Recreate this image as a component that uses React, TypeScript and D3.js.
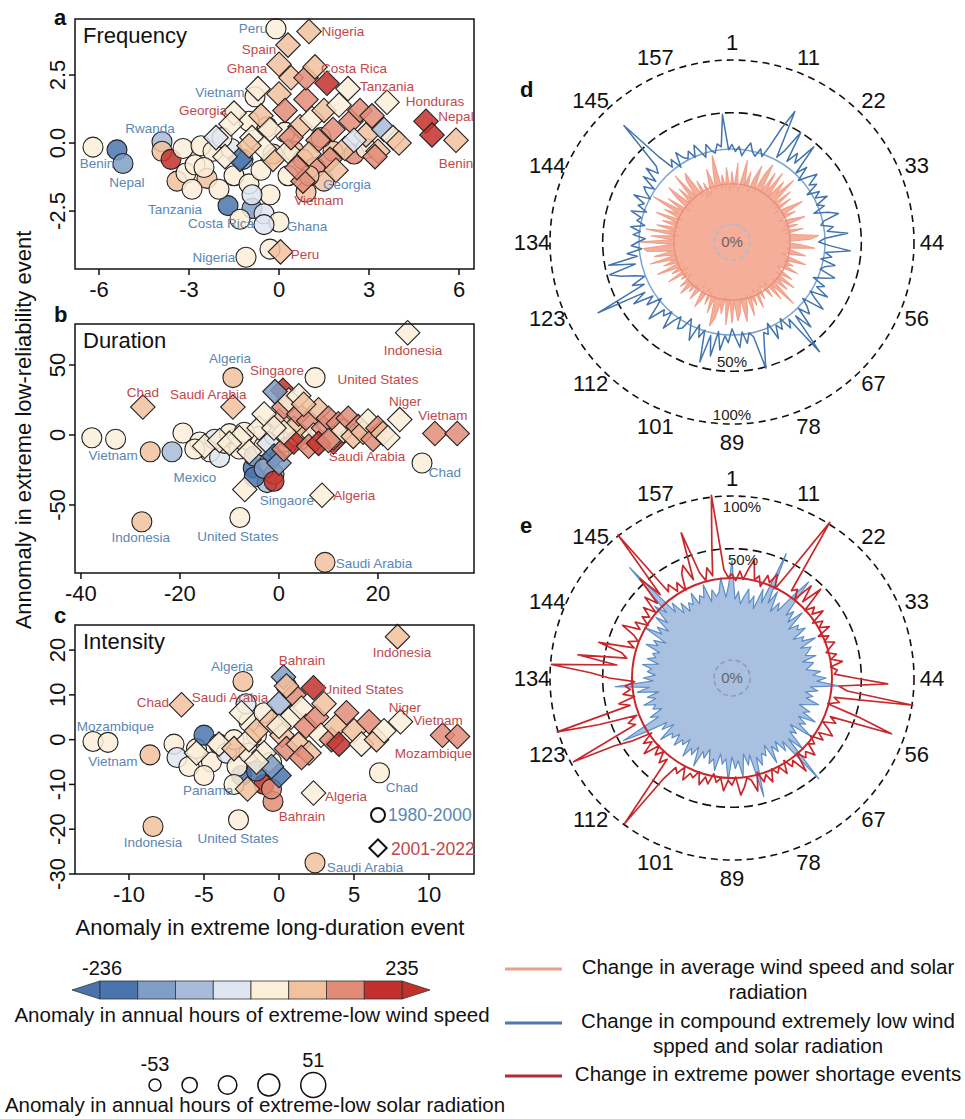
import React from "react";
import * as d3 from "d3";

// ---------------- colours ----------------
const WIND_COLORS = ["#4a74ad", "#7f9ec6", "#a8bbd8", "#dfe6f1", "#fcefd9", "#f2c19d", "#e28c78", "#c3302c"];
const FONT = "'Liberation Sans', Arial, Helvetica, sans-serif";
const BLUE_TXT = "#5a86b4";
const RED_TXT = "#c2474a";

// ---------------- panel a : Frequency ----------------
const A_X_TICKS = [-6, -3, 0, 3, 6];
const A_Y_TICKS = [-2.5, 0, 2.5];
const A_X_DOMAIN = [-6.8, 6.5];
const A_Y_DOMAIN = [-4.63, 4.56];
const A_CIRCLES: [number, number, number][] = [
  [-6.2, -0.15, 4], [-5.4, -0.25, 0], [-5.2, -0.75, 1], [-3.9, 0.05, 2], [-3.9, -0.3, 5], [-3.6, -0.6, 7], [-3.2, -0.2, 4],
  [-2.6, -0.1, 4], [-2.2, -0.3, 4], [-3.4, -1.4, 5], [-3.1, -1.1, 4], [-2.8, -0.8, 4], [-1.7, -2.3, 0], [-0.9, -2.4, 1],
  [-0.5, -2.6, 3], [0, -2.9, 4], [-0.1, 4.2, 4], [-0.3, -3.9, 4], [-1.1, -4.2, 4], [-0.8, 1.7, 4],
  [-2.4, -1.3, 5], [-2.0, -1.7, 4], [-1.5, -1.2, 4], [-1.2, -0.6, 1], [-1.6, -0.2, 3], [-1.0, -1.5, 4], [-0.6, -1.0, 4],
  [-0.2, -0.4, 5], [-0.3, -1.9, 4], [-0.9, -1.9, 3], [0.3, -1.2, 4], [0.5, -0.3, 5], [0.2, 0.4, 4], [-0.4, 0.6, 5],
  [-1.0, 0.8, 4], [0.8, -0.6, 5], [1.2, -0.9, 6], [1.8, -0.3, 5], [2.5, -0.4, 6], [1.4, 0.2, 4], [-0.5, -3.0, 3],
  [-1.3, -2.8, 4], [-2.5, -0.9, 4], [0.9, -1.8, 5], [1.5, -1.4, 5], [2.9, -0.2, 4], [-1.9, 0.2, 4], [-2.9, -1.7, 4], [1.0, -1.2, 5],
];
const A_DIAMONDS: [number, number, number][] = [
  [1.0, 4.1, 5], [0.3, 3.6, 5], [0, 2.9, 5], [1.6, 2.2, 7], [2.3, 2.0, 4], [3.6, 1.5, 4], [4.9, 0.8, 7], [5.1, 0.3, 7],
  [5.9, 0.1, 5], [-1.5, 1.1, 4], [0.8, -1.4, 6], [0.05, -4.0, 5],
  [-2.1, 0.2, 3], [-1.6, 0.7, 4], [-1.3, -0.6, 0], [-0.9, 0.2, 4], [-0.6, 1.0, 5], [-0.3, 0.5, 4], [0, 1.8, 5], [0.2, 1.2, 6],
  [0.4, 2.4, 5], [0.7, 0.6, 5], [0.9, 1.6, 6], [1.1, 0.9, 4], [1.3, 0.1, 6], [1.5, 1.2, 5], [1.8, 0.5, 6], [2.0, 1.4, 4],
  [2.2, -0.2, 5], [2.4, 0.8, 6], [2.7, 1.2, 6], [2.9, 0.3, 5], [3.1, 1.0, 6], [3.3, -0.3, 5], [3.5, 0.5, 2], [3.8, 0.2, 4],
  [4.0, 0.0, 5], [-0.2, -0.6, 5], [0.3, -0.3, 4], [0.6, -0.9, 6], [1.0, -0.4, 5], [1.7, -0.6, 6], [0.9, 2.4, 6], [1.2, 2.8, 5],
  [-0.5, -0.2, 4], [-1.0, -0.1, 5], [-0.7, 2.0, 4], [2.5, 0.1, 3], [1.9, -1.0, 5], [0.4, 0.2, 6], [-1.8, -0.5, 4], [3.2, -0.5, 6],
];
const A_LABELS: [string, number, number, string][] = [
  ["Peru", -0.87, 4.04, "b"], ["Nigeria", 2.13, 3.93, "r"], ["Spain", -0.67, 3.27, "r"], ["Ghana", -1.07, 2.57, "r"],
  ["Costa Rica", 2.5, 2.57, "r"], ["Tanzania", 3.6, 1.91, "r"], ["Honduras", 5.2, 1.36, "r"], ["Nepal", 5.9, 0.81, "r"],
  ["Benin", 5.9, -0.92, "r"], ["Vietnam", -1.97, 1.69, "b"], ["Georgia", -2.53, 1.03, "r"], ["Rwanda", -4.3, 0.37, "b"],
  ["Benin", -6.07, -0.92, "b"], ["Nepal", -5.07, -1.62, "b"], ["Georgia", 2.27, -1.69, "b"], ["Vietnam", 1.33, -2.28, "r"],
  ["Tanzania", -3.47, -2.61, "b"], ["Costa Rica", -1.93, -3.13, "b"], ["Ghana", 0.93, -3.24, "b"], ["Nigeria", -2.17, -4.38, "b"],
  ["Peru", 0.87, -4.26, "r"],
];

// ---------------- panel b : Duration ----------------
const B_X_TICKS = [-40, -20, 0, 20];
const B_Y_TICKS = [-50, 0, 50];
const B_X_DOMAIN = [-41.2, 39.4];
const B_Y_DOMAIN = [-98.6, 79.3];
const B_CIRCLES: [number, number, number][] = [
  [-37.8, -2, 4], [-33, -3, 4], [-26, -12, 5], [-21.6, -12, 2], [-19.4, 1.4, 4], [-27.7, -62, 5], [-7.9, -59, 4], [9.3, -91, 5],
  [28.9, -20, 4], [-5.2, -23.5, 0], [-2.4, -34, 2], [-9.3, 41, 5], [7.3, 41, 4],
  [-16, -5, 4], [-14, -12, 4], [-12, -16, 3], [-11, -6, 4], [-9, -3, 4], [-8, -10, 4], [-6, -4, 4], [-5, -15, 1], [-4, -1, 4],
  [-3, -8, 4], [-2, -20, 5], [-1, -28, 6], [0, -12, 4], [1, -5, 4], [-13, -3, 3], [-17, -10, 4], [-10, 1, 4], [-7, 2, 4],
  [-5, -30, 0], [-3, -24, 1], [2, -2, 4], [-1, 0, 3], [-1, -33, 7],
];
const B_DIAMONDS: [number, number, number][] = [
  [-27.5, 20, 5], [-9.3, 20, 5], [26, 73, 4], [24.4, 11, 4], [31.5, 1, 6], [36, 1, 6], [11, -5, 7], [8.7, -43, 4], [-6.9, -39, 4],
  [0.8, 32, 7],
  [-15, -8, 4], [-12, -4, 4], [-8, -2, 4], [-6, -12, 4], [-4, 5, 4], [-2, -6, 3], [0, 10, 5], [1, 20, 6], [2, 25, 4], [3, 5, 5],
  [4, 15, 6], [5, -2, 5], [6, 10, 6], [7, 0, 4], [8, 18, 5], [9, 5, 6], [10, 12, 6], [11, -2, 5], [12, 8, 6], [13, 3, 4],
  [14, 12, 6], [15, -1, 5], [16, 6, 6], [17, 2, 5], [18, 10, 4], [19, -3, 6], [20, 5, 6], [21, 1, 5], [22, -2, 4], [-1, -15, 0],
  [0, -20, 1], [1, -10, 6], [3, -5, 7], [4, 28, 4], [-0.8, 31, 1], [-3, 15, 4], [5, 22, 5], [6, -8, 6], [8, -6, 7], [10, -4, 6],
  [-10, -6, 4], [1, 2, 4], [-1, 5, 4],
];
const B_LABELS: [string, number, number, string][] = [
  ["Indonesia", 27.1, 57.1, "r"], ["Algeria", -9.9, 51.4, "b"], ["Singaore", -0.4, 42.9, "r"], ["United States", 20, 36.4, "r"],
  ["Chad", -27.5, 27.1, "r"], ["Saudi Arabia", -14.3, 25.7, "r"], ["Niger", 25.5, 20.7, "r"], ["Vietnam", 33.1, 10.7, "r"],
  ["Vietnam", -33.5, -17.9, "b"], ["Saudi Arabia", 17.8, -18.6, "r"], ["Chad", 33.5, -30, "b"], ["Mexico", -17, -33.6, "b"],
  ["Singaore", 1.6, -50, "b"], ["Algeria", 15.2, -46.4, "r"], ["Indonesia", -27.9, -76.4, "b"], ["United States", -8.3, -75.7, "b"],
  ["Saudi Arabia", 19.2, -95, "b"],
];

// ---------------- panel c : Intensity ----------------
const C_X_TICKS = [-10, -5, 0, 5, 10];
const C_Y_TICKS = [-30, -20, -10, 0, 10, 20];
const C_X_DOMAIN = [-13.6, 13.0];
const C_Y_DOMAIN = [-30, 25.6];
const C_CIRCLES: [number, number, number][] = [
  [-12.4, -0.4, 4], [-11.4, -0.6, 4], [-8.6, -3.4, 5], [-2.4, 13, 5], [6.7, -7.4, 4], [-2.5, -8, 0], [-8.4, -19.4, 5],
  [-2.7, -17.9, 4], [2.4, -27.5, 5], [-0.4, -13.8, 6],
  [-7, -1, 4], [-6.8, -4, 3], [-6.0, -6, 4], [-5.5, -2, 4], [-5, 1, 0], [-4.5, -5, 4], [-4, -1, 4], [-3.5, -3, 3], [-3, 0, 4],
  [-2.8, -6, 4], [-2, -3, 4], [-1.5, 1, 4], [-1, -10, 7], [-1.5, -7, 0], [-0.5, -11, 6], [-2, 4, 4], [-2.2, 8, 3], [-1, 6, 4],
  [0.5, 12, 4], [-5, -8, 4], [-3, -10, 4], [-0.5, -5, 4],
];
const C_DIAMONDS: [number, number, number][] = [
  [7.9, 23, 5], [-6.5, 7.8, 5], [-2.5, 6, 4], [0.3, 14, 1], [2.3, 11.6, 7], [8.1, 4, 4], [10.9, 1, 6], [11.9, 0.7, 6],
  [2.3, -11.9, 4], [-2.1, -11, 5],
  [-5.5, -3, 4], [-4, -1, 4], [-3, -2, 5], [-2, 0, 4], [-1.5, 2, 5], [-1, -3, 4], [-0.5, 4, 5], [0, 8, 2], [0.2, 1, 5],
  [0.5, -2, 6], [0.8, 5, 4], [1, 10, 6], [1.3, -1, 5], [1.5, 7, 4], [1.8, 3, 6], [2, -3, 5], [2.5, 5, 6], [2.8, 1, 4], [3, 8, 5],
  [3.5, 0, 6], [3.8, 3, 5], [4, -1, 7], [4.5, 6, 6], [5, 2, 5], [5.5, -1, 4], [6, 4, 6], [6.5, 0, 5], [7, 2, 4], [0, -8, 0],
  [-0.5, -6, 1], [0.5, 12, 5], [1.5, -4, 6], [-1.5, -5, 4], [0, 3, 4],
];
const C_LABELS: [string, number, number, string][] = [
  ["Indonesia", 8.2, 18.5, "r"], ["Algeria", -3.13, 15.4, "b"], ["Bahrain", 1.53, 16.7, "r"], ["United States", 5.6, 10.3, "r"],
  ["Chad", -8.4, 7.4, "r"], ["Saudi Arabia", -3.27, 8.3, "r"], ["Niger", 8.4, 6.25, "r"], ["Vietnam", 10.6, 3.35, "r"],
  ["Mozambique", -10.9, 2.0, "b"], ["Vietnam", -11.07, -5.8, "b"], ["Mozambique", 10.3, -4.2, "r"], ["Chad", 8.2, -11.6, "b"],
  ["Panama", -4.73, -12.3, "b"], ["Algeria", 4.47, -13.6, "r"], ["Bahrain", 1.53, -18.1, "r"], ["Indonesia", -8.4, -23.9, "b"],
  ["United States", -2.73, -23, "b"], ["Saudi Arabia", 5.73, -29.5, "b"],
];

// ---------------- polar panels (168 regions) ----------------
const POLAR_TICK_LABELS = ["1", "11", "22", "33", "44", "56", "67", "78", "89", "101", "112", "123", "134", "144", "145", "157"];
const D_SALMON = [
  14, 8, 18, 7, 11, 20, 9, 15, 7, 13, 19, 8,
  16, 22, 9, 19, 10, 21, 9, 18, 12, 22, 8, 17,
  8, 15, 7, 12, 19, 9, 14, 7, 11, 17, 8, 13,
  7, 15, 8, 12, 22, 18, 7, 13, 20, 8, 11, 16,
  7, 10, 17, 8, 12, 9, 15, 7, 9, 14, 8, 17,
  9, 15, 8, 22, 9, 16, 7, 13, 9, 7, 12, 8,
  15, 7, 13, 9, 17, 8, 14, 19, 9, 15, 18, 10,
  19, 9, 20, 8, 15, 11, 18, 22, 9, 16, 8, 13,
  7, 12, 16, 7, 10, 14, 8, 12, 9, 15, 9, 13,
  7, 11, 8, 16, 7, 13, 9, 19, 8, 15, 9, 21,
  9, 18, 10, 21, 23, 9, 27, 10, 19, 8, 22, 9,
  17, 8, 15, 9, 19, 8, 16, 10, 24, 9, 17, 7,
  14, 20, 8, 16, 9, 22, 9, 17, 20, 8, 14, 7,
  12, 7, 11, 17, 8, 15, 23, 8, 13, 8, 16, 7,
];
const D_BLUE = [
  28, 24, 27, 22, 26, 30, 25, 23, 28, 24, 31, 46,
  63, 27, 33, 50, 28, 36, 30, 47, 26, 33, 24, 29,
  35, 27, 31, 23, 30, 26, 33, 25, 29, 22, 30, 36,
  26, 24, 31, 27, 40, 25, 22, 28, 42, 26, 30, 24,
  33, 27, 25, 35, 29, 23, 31, 27, 36, 25, 30, 38,
  24, 29, 33, 26, 40, 28, 59, 27, 32, 24, 30, 26,
  34, 23, 29, 27, 36, 51, 28, 25, 31, 24, 33, 27,
  22, 30, 26, 35, 24, 40, 27, 46, 25, 30, 23, 34,
  27, 22, 29, 31, 24, 28, 36, 25, 30, 27, 38, 29,
  24, 33, 27, 40, 30, 69, 28, 35, 26, 31, 40, 48,
  29, 47, 27, 33, 24, 30, 26, 22, 29, 25, 31, 23,
  28, 26, 33, 24, 30, 27, 35, 25, 29, 32, 26, 36,
  28, 38, 30, 34, 76, 38, 27, 31, 24, 33, 28, 26,
  30, 25, 32, 27, 23, 30, 26, 24, 29, 27, 49, 25,
];
const E_BLUE = [
  41, 18, 22, 16, 20, 24, 17, 21, 15, 26, 19, 55,
  20, 28, 17, 23, 19, 30, 45, 20, 24, 18, 27, 16,
  21, 19, 23, 15, 20, 18, 25, 16, 21, 19, 17, 22,
  15, 20, 18, 16, 23, 19, 26, 21, 34, 18, 22, 16,
  20, 17, 24, 19, 15, 21, 18, 26, 17, 22, 19, 28,
  16, 21, 18, 30, 20, 53, 19, 24, 17, 22, 18, 27,
  16, 21, 19, 25, 20, 45, 18, 23, 17, 29, 20, 24,
  18, 31, 19, 22, 17, 26, 20, 23, 16, 21, 18, 27,
  17, 22, 19, 25, 16, 20, 18, 23, 17, 21, 19, 26,
  16, 22, 18, 30, 47, 20, 24, 17, 21, 19, 25, 18,
  22, 16, 27, 20, 41, 18, 23, 17, 21, 19, 24, 16,
  22, 18, 20, 17, 25, 19, 22, 16, 30, 20, 24, 18,
  28, 21, 33, 25, 68, 22, 27, 19, 24, 18, 22, 20,
  26, 19, 23, 21, 28, 18, 24, 20, 22, 30, 19, 25,
];
const E_RED = [
  32, 28, 34, 29, 36, 43, 30, 33, 27, 35, 31, 38,
  29, 40, 60, 102, 33, 36, 30, 44, 32, 47, 29, 35,
  31, 38, 28, 34, 30, 36, 27, 33, 29, 35, 31, 28,
  34, 30, 37, 29, 33, 31, 45, 73, 34, 40, 101, 32,
  36, 29, 52, 86, 33, 38, 30, 35, 40, 31, 36, 28,
  33, 30, 38, 32, 35, 29, 42, 31, 34, 28, 36, 30,
  33, 29, 37, 31, 35, 28, 40, 32, 30, 36, 41, 29,
  34, 31, 38, 30, 33, 28, 35, 31, 37, 29, 34, 32,
  38, 30, 36, 33, 45, 99, 32, 37, 30, 35, 29, 40,
  31, 36, 28, 42, 55, 97, 34, 38, 31, 60, 101, 33,
  40, 29, 36, 31, 34, 28, 45, 60, 99, 40, 73, 34,
  38, 57, 31, 36, 30, 34, 44, 32, 37, 29, 35, 31,
  38, 30, 42, 33, 55, 36, 101, 34, 38, 31, 36, 29,
  40, 45, 33, 71, 36, 30, 38, 32, 55, 102, 35, 30,
];
const D_REF_SALMON = 9.3;
const D_REF_BLUE = 25.4;
const E_REF_RED = 29.5;

// ---------------- legends ----------------
const COLORBAR_MIN = "-236";
const COLORBAR_MAX = "235";
const SIZE_LEGEND_VALUES = [-53, -27, 0, 26, 51];
const LINE_LEGEND = [
  { color: "#e9a08b", lines: ["Change in average wind speed and solar", "radiation"] },
  { color: "#4b79b0", lines: ["Change in compound extremely low wind", "spped and solar radiation"] },
  { color: "#b8282e", lines: ["Change in extreme power shortage events"] },
];

const PLOT_L = 75;
const PLOT_R = 474;

type ScatterProps = {
  top: number; bottom: number; xDomain: number[]; yDomain: number[]; xTicks: number[]; yTicks: number[];
  yFmt: (v: number) => string; circles: [number, number, number][]; diamonds: [number, number, number][];
  labels: [string, number, number, string][]; title: string; letter: string; letterY: number; legend?: boolean;
};

function Scatter(p: ScatterProps) {
  const x = d3.scaleLinear().domain(p.xDomain).range([PLOT_L, PLOT_R]);
  const y = d3.scaleLinear().domain(p.yDomain).range([p.bottom, p.top]);
  const diamond = d3.symbol(d3.symbolSquare, 300)() as string;
  const smallDiamond = d3.symbol(d3.symbolSquare, 150)() as string;
  return (
    <g>
      {p.circles.map((c, i) => (
        <circle key={"c" + i} cx={x(c[0])} cy={y(c[1])} r={10} fill={WIND_COLORS[c[2]]} fillOpacity={0.85}
          stroke="#222" strokeWidth={1.1} />
      ))}
      {p.diamonds.map((c, i) => (
        <path key={"d" + i} d={diamond} transform={`translate(${x(c[0])},${y(c[1])}) rotate(45)`}
          fill={WIND_COLORS[c[2]]} fillOpacity={0.85} stroke="#222" strokeWidth={1.1} />
      ))}
      {p.labels.map((l, i) => (
        <text key={"l" + i} x={x(l[1])} y={y(l[2])} textAnchor="middle" fontSize={13.5}
          fill={l[3] === "b" ? BLUE_TXT : RED_TXT}>{l[0]}</text>
      ))}
      <rect x={PLOT_L} y={p.top} width={PLOT_R - PLOT_L} height={p.bottom - p.top} fill="none" stroke="#111" strokeWidth={1.5} />
      {p.xTicks.map((t) => (
        <g key={"xt" + t}>
          <line x1={x(t)} x2={x(t)} y1={p.bottom} y2={p.bottom + 6} stroke="#111" strokeWidth={1.5} />
          <text x={x(t)} y={p.bottom + 28} textAnchor="middle" fontSize={22} fill="#111">{t}</text>
        </g>
      ))}
      {p.yTicks.map((t) => (
        <g key={"yt" + t}>
          <line x1={PLOT_L - 6} x2={PLOT_L} y1={y(t)} y2={y(t)} stroke="#111" strokeWidth={1.5} />
          <text transform={`translate(65,${y(t)}) rotate(-90)`} textAnchor="middle" fontSize={22} fill="#111">{p.yFmt(t)}</text>
        </g>
      ))}
      <text x={83} y={p.top + 24} fontSize={22} fill="#111">{p.title}</text>
      <text x={54} y={p.letterY} fontSize={22} fontWeight="bold" fill="#111">{p.letter}</text>
      {p.legend && (
        <g>
          <circle cx={378} cy={815} r={7} fill="white" stroke="#111" strokeWidth={2} />
          <text x={388} y={821} fontSize={17.5} fill={BLUE_TXT}>1980-2000</text>
          <path d={smallDiamond} transform="translate(378,848) rotate(45)" fill="white" stroke="#111" strokeWidth={2} />
          <text x={391} y={855} fontSize={17.5} fill={RED_TXT}>2001-2022</text>
        </g>
      )}
    </g>
  );
}

type PolarProps = {
  cx: number; cy: number; letter: string; fillData: number[]; fillColor: string; fillStroke: string;
  lineData: number[]; lineColor: string; lineWidth: number; refs: { v: number; color: string; w: number }[];
  centerStroke: string; pctTop: boolean;
};

function Polar(p: PolarProps) {
  const r = d3.scaleRadial().domain([0, 100]).range([18, 182]);
  const N = p.fillData.length;
  const path = d3.lineRadial<number>()
    .angle((_, i) => (i / N) * 2 * Math.PI)
    .radius((v) => r(v))
    .curve(d3.curveLinearClosed);
  return (
    <g>
      <circle cx={p.cx} cy={p.cy} r={r(100)} fill="none" stroke="#111" strokeWidth={1.6} strokeDasharray="7,5" />
      <circle cx={p.cx} cy={p.cy} r={r(50)} fill="none" stroke="#111" strokeWidth={1.6} strokeDasharray="9,5" />
      <g transform={`translate(${p.cx},${p.cy})`}>
        <path d={path(p.fillData) as string} fill={p.fillColor} stroke={p.fillStroke} strokeWidth={1.2} strokeLinejoin="round" />
        {p.refs.map((rf, i) => (
          <circle key={i} r={r(rf.v)} fill="none" stroke={rf.color} strokeWidth={rf.w} />
        ))}
        <path d={path(p.lineData) as string} fill="none" stroke={p.lineColor} strokeWidth={p.lineWidth} strokeLinejoin="round" />
        <circle r={18} fill="none" stroke={p.centerStroke} strokeWidth={1.6} strokeDasharray="5,3" />
        <text x={0} y={5} textAnchor="middle" fontSize={15} fill="#666">0%</text>
        {p.pctTop ? (
          <g>
            <text x={10} y={-r(100) + 16} textAnchor="middle" fontSize={15} fill="#222">100%</text>
            <text x={11} y={-r(50) + 16} textAnchor="middle" fontSize={15} fill="#222">50%</text>
          </g>
        ) : (
          <g>
            <text x={0} y={r(50) - 4} textAnchor="middle" fontSize={15} fill="#222">50%</text>
            <text x={0} y={r(100) - 4} textAnchor="middle" fontSize={15} fill="#222">100%</text>
          </g>
        )}
        {POLAR_TICK_LABELS.map((t, k) => {
          const a = (k / POLAR_TICK_LABELS.length) * 2 * Math.PI;
          return (
            <text key={t + k} x={200 * Math.sin(a)} y={-200 * Math.cos(a)} textAnchor="middle" dominantBaseline="central"
              fontSize={22} fill="#111">{t}</text>
          );
        })}
      </g>
      <text x={520} y={p.cy - 145} fontSize={22} fontWeight="bold" fill="#111">{p.letter}</text>
    </g>
  );
}

export default function App() {
  const cbLeft = 100, cbRight = 402, cbTop = 981, cbBottom = 999;
  const boxW = (cbRight - cbLeft) / WIND_COLORS.length;
  const sizeR = d3.scaleLinear().domain([-53, 51]).range([6, 12.5]);
  const sizeX: number[] = [];
  SIZE_LEGEND_VALUES.forEach((v, i) => {
    if (i === 0) sizeX.push(155);
    else sizeX.push(sizeX[i - 1] + sizeR(SIZE_LEGEND_VALUES[i - 1]) + sizeR(v) + 21);
  });
  return (
    <div style={{ position: "absolute", left: 0, top: 0 }}>
      <svg width={965} height={1119} style={{ display: "block", fontFamily: FONT }}>
        <rect width={965} height={1119} fill="white" />
        <Scatter top={19} bottom={269} xDomain={A_X_DOMAIN} yDomain={A_Y_DOMAIN} xTicks={A_X_TICKS} yTicks={A_Y_TICKS}
          yFmt={(v) => v.toFixed(1)} circles={A_CIRCLES} diamonds={A_DIAMONDS} labels={A_LABELS} title="Frequency"
          letter="a" letterY={25} />
        <Scatter top={324} bottom={573} xDomain={B_X_DOMAIN} yDomain={B_Y_DOMAIN} xTicks={B_X_TICKS} yTicks={B_Y_TICKS}
          yFmt={(v) => String(v)} circles={B_CIRCLES} diamonds={B_DIAMONDS} labels={B_LABELS} title="Duration"
          letter="b" letterY={322} />
        <Scatter top={625} bottom={874} xDomain={C_X_DOMAIN} yDomain={C_Y_DOMAIN} xTicks={C_X_TICKS} yTicks={C_Y_TICKS}
          yFmt={(v) => String(v)} circles={C_CIRCLES} diamonds={C_DIAMONDS} labels={C_LABELS} title="Intensity"
          letter="c" letterY={623} legend />
        <text transform="translate(31,430) rotate(-90)" textAnchor="middle" fontSize={22} fill="#111">
          Annomaly in extreme low-reliability event
        </text>
        <text x={270} y={935} textAnchor="middle" fontSize={22} fill="#111">Anomaly in extreme long-duration event</text>

        <Polar cx={732} cy={242} letter="d" fillData={D_SALMON} fillColor="#f4ae9a" fillStroke="#f1a08a" lineData={D_BLUE}
          lineColor="#4274ad" lineWidth={1.5}
          refs={[{ v: D_REF_SALMON, color: "#e8907a", w: 1.4 }, { v: D_REF_BLUE, color: "#7aa3cf", w: 1.5 }]}
          centerStroke="#a9bcd4" pctTop={false} />
        <Polar cx={732} cy={678} letter="e" fillData={E_BLUE} fillColor="#a9c0e0" fillStroke="#5b8dc9" lineData={E_RED}
          lineColor="#c8282c" lineWidth={1.7} refs={[{ v: E_REF_RED, color: "#c8282c", w: 2 }]}
          centerStroke="#8d9db2" pctTop />

        {/* colour bar */}
        <g>
          <path d={`M${cbLeft},${cbTop} L${cbLeft - 28},${(cbTop + cbBottom) / 2} L${cbLeft},${cbBottom} Z`} fill={WIND_COLORS[0]} stroke="#333" strokeWidth={0.8} />
          <path d={`M${cbRight},${cbTop} L${cbRight + 28},${(cbTop + cbBottom) / 2} L${cbRight},${cbBottom} Z`} fill={WIND_COLORS[7]} stroke="#333" strokeWidth={0.8} />
          {WIND_COLORS.map((c, i) => (
            <rect key={c} x={cbLeft + i * boxW} y={cbTop} width={boxW} height={cbBottom - cbTop} fill={c} stroke="#333" strokeWidth={0.8} />
          ))}
          <text x={cbLeft + 2} y={975} textAnchor="middle" fontSize={20} fill="#111">{COLORBAR_MIN}</text>
          <text x={cbRight} y={975} textAnchor="middle" fontSize={20} fill="#111">{COLORBAR_MAX}</text>
          <text x={252} y={1022} textAnchor="middle" fontSize={20.5} fill="#111">Anomaly in annual hours of extreme-low wind speed</text>
        </g>
        {/* size legend */}
        <g>
          {SIZE_LEGEND_VALUES.map((v, i) => (
            <circle key={v} cx={sizeX[i]} cy={1085} r={sizeR(v)} fill="white" stroke="#111" strokeWidth={1.5} />
          ))}
          <text x={sizeX[0]} y={1071} textAnchor="middle" fontSize={20} fill="#111">-53</text>
          <text x={sizeX[4]} y={1067} textAnchor="middle" fontSize={20} fill="#111">51</text>
          <text x={255} y={1112} textAnchor="middle" fontSize={20.5} fill="#111">Anomaly in annual hours of extreme-low solar radiation</text>
        </g>
        {/* line legend */}
        <g>
          {LINE_LEGEND.map((l, i) => {
            const ly = [969, 1023, 1076][i];
            return (
              <g key={i}>
                <line x1={505} x2={562} y1={ly} y2={ly} stroke={l.color} strokeWidth={3} />
                {l.lines.map((s, j) => (
                  <text key={j} x={768} y={ly + 5 + j * 25} textAnchor="middle" fontSize={20.5} fill="#111">{s}</text>
                ))}
              </g>
            );
          })}
        </g>
      </svg>
    </div>
  );
}
